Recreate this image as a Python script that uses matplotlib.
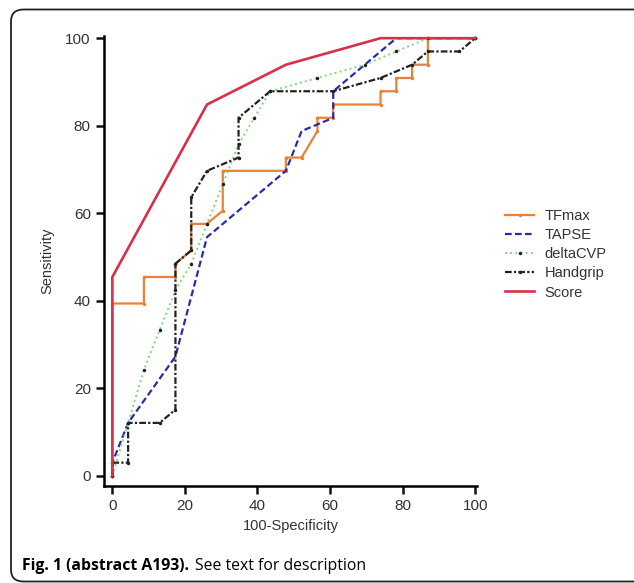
import matplotlib.pyplot as plt
from matplotlib.patches import FancyBboxPatch

plt.rcParams['font.family'] = ['Liberation Sans', 'DejaVu Sans']

# ROC curves (x = 100-Specificity, y = Sensitivity)
tfmax_x = [0, 0, 8.7, 8.7, 17.39, 17.39, 21.74, 21.74, 26.09, 30.43, 30.43, 47.83, 47.83,
           52.17, 56.52, 56.52, 60.87, 60.87, 73.91, 73.91, 78.26, 78.26, 82.61, 82.61,
           86.96, 86.96, 100]
tfmax_y = [0, 39.39, 39.39, 45.45, 45.45, 48.48, 51.52, 57.58, 57.58, 60.61, 69.7, 69.7, 72.73,
           72.73, 78.79, 81.82, 81.82, 84.85, 84.85, 87.88, 87.88, 90.91, 90.91, 93.94,
           93.94, 100, 100]

tapse_x = [0, 0, 4.35, 17.39, 26.09, 47.83, 52.17, 60.87, 60.87, 78.26, 100]
tapse_y = [0, 3.03, 12.12, 27.27, 54.55, 69.7, 78.79, 81.82, 87.88, 100, 100]

dcvp_x = [0, 4.35, 8.7, 13.04, 17.39, 21.74, 26.09, 30.43, 34.78, 39.13, 43.48,
          56.52, 69.57, 78.26, 86.96, 100]
dcvp_y = [0, 12.12, 24.24, 33.33, 42.42, 48.48, 57.58, 66.67, 75.76, 81.82, 87.88,
          90.91, 93.94, 96.97, 100, 100]

hand_x = [0, 0, 4.35, 4.35, 13.04, 17.39, 17.39, 21.74, 21.74, 26.09, 34.78, 34.78,
          43.48, 60.87, 73.91, 82.61, 86.96, 95.65, 100]
hand_y = [0, 3.03, 3.03, 12.12, 12.12, 15.15, 48.48, 51.52, 63.64, 69.7, 72.73, 81.82,
          87.88, 87.88, 90.91, 93.94, 96.97, 96.97, 100]

score_x = [0, 0, 26.09, 47.83, 73.91, 100]
score_y = [0, 45.45, 84.85, 93.94, 100, 100]

fig = plt.figure(figsize=(6.34, 5.83), dpi=100)
ax = fig.add_axes([104 / 634, 97 / 583, 373 / 634, 450 / 583])

ax.plot(tfmax_x, tfmax_y, '-', color='#e8813a', lw=1.6, marker='o', ms=1.5, label='TFmax')
ax.plot(tapse_x, tapse_y, '--', color='#2b2ba8', lw=1.6, dashes=(3, 1.5), label='TAPSE')
ax.plot(dcvp_x, dcvp_y, ':', color='#7fd67f', lw=1.4, marker='o', ms=1.5, mfc='#222222',
        mec='#222222', label='deltaCVP')
ax.plot(hand_x, hand_y, '-.', color='#222222', lw=1.6, dashes=(3, 1, 1, 1), marker='o',
        ms=1.5, label='Handgrip')
ax.plot(score_x, score_y, '-', color='#d8304a', lw=1.9, label='Score')

ax.set_xlim(-2.3, 100.5)
ax.set_ylim(-2.3, 100.5)
ax.set_xticks([0, 20, 40, 60, 80, 100])
ax.set_yticks([0, 20, 40, 60, 80, 100])
for s in ['top', 'right']:
    ax.spines[s].set_visible(False)
for s in ['left', 'bottom']:
    ax.spines[s].set_linewidth(1.8)
ax.tick_params(direction='out', length=6, width=1.8, labelsize=11, colors='#111111',
               labelcolor='#333333')
ax.set_xlabel('100-Specificity', fontsize=10.5, color='#333333', labelpad=4)
ax.set_ylabel('Sensitivity', fontsize=10.5, color='#333333', labelpad=8)

fig.legend(loc='upper left', bbox_to_anchor=(492 / 634, 1 - 196 / 583), frameon=False,
           fontsize=10.5, handlelength=2.0, handletextpad=0.7, labelspacing=0.35,
           labelcolor='#333333')

# rounded frame, running off the right edge
frame = FancyBboxPatch((11 / 634, 1.5 / 583), 660 / 634, 572 / 583,
                       boxstyle='round,pad=0,rounding_size=0.02', transform=fig.transFigure,
                       fill=False, ec='#222222', lw=1.3)
fig.patches.append(frame)

fig.text(22 / 634, 1 - 566 / 583, 'Fig. 1 (abstract A193).', fontsize=11.3, fontweight='bold',
         family=['Open Sans', 'DejaVu Sans'], va='center')
fig.text(195 / 634, 1 - 566 / 583, 'See text for description', fontsize=11.3,
         family=['Open Sans', 'DejaVu Sans'], va='center')

fig.savefig('out.png', dpi=100)
